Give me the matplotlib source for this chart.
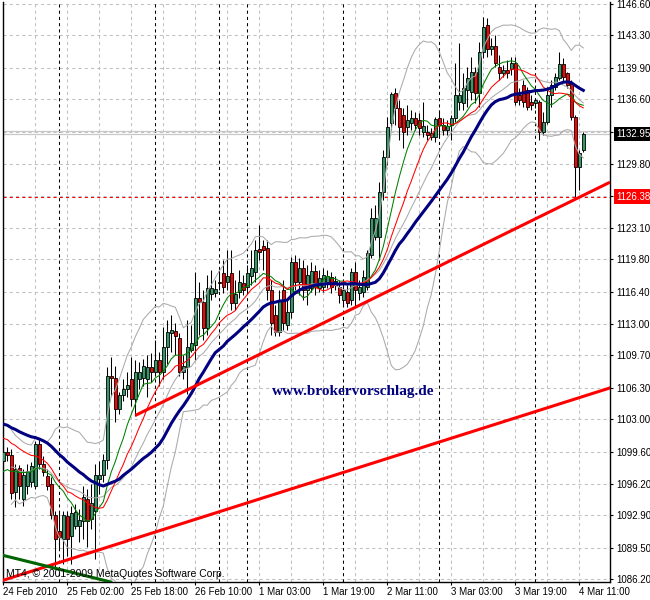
import numpy as np
import pandas as pd
import matplotlib
matplotlib.use("Agg")
import matplotlib.pyplot as plt
import matplotlib.transforms as mtransforms

plt.rcParams['font.family'] = ['Liberation Sans', 'DejaVu Sans']

# hourly bars, 24 Feb 2010 10:00 .. 4 Mar 12:00
opens = [1098.58, 1099.52, 1099.21, 1095.33, 1097.84, 1094.59, 1095.96, 1096.38, 1095.96, 1100.36,
         1098.26, 1097.00, 1096.17, 1092.91, 1091.23, 1090.40, 1092.81, 1090.71, 1091.76, 1091.76,
         1092.28, 1094.59, 1092.49, 1093.33, 1096.69, 1097.11, 1098.68, 1107.59, 1107.38, 1104.03,
         1105.50, 1106.13, 1107.18, 1105.08, 1107.18, 1107.38, 1107.18, 1108.53, 1107.91, 1109.27,
         1108.01, 1110.63, 1112.10, 1112.31, 1111.57, 1107.91, 1108.53, 1110.32, 1110.84, 1115.77,
         1115.35, 1112.62, 1116.19, 1116.29, 1117.45, 1118.39, 1117.45, 1118.39, 1115.25, 1116.40,
         1117.35, 1116.92, 1118.08, 1118.50, 1120.91, 1121.23, 1121.02, 1116.61, 1113.99, 1112.20,
         1116.61, 1112.94, 1114.30, 1119.55, 1117.45, 1118.92, 1116.61, 1116.82, 1118.60, 1116.82,
         1116.92, 1117.45, 1117.97, 1117.14, 1116.92, 1115.56, 1116.40, 1115.56, 1118.50, 1116.29,
         1116.40, 1116.92, 1120.28, 1122.17, 1122.17, 1126.88, 1130.55, 1134.12, 1137.27, 1135.69,
         1134.95, 1133.70, 1134.12, 1134.64, 1134.43, 1133.17, 1133.17, 1132.65, 1132.65, 1134.64,
         1133.91, 1133.38, 1133.91, 1134.64, 1136.32, 1136.22, 1137.58, 1137.37, 1139.47, 1137.27,
         1141.57, 1144.40, 1141.88, 1142.20, 1139.99, 1139.37, 1139.68, 1139.78, 1140.41, 1137.06,
         1138.11, 1137.58, 1136.32, 1136.22, 1136.32, 1133.17, 1134.22, 1137.06, 1137.90, 1138.84,
         1140.31, 1139.37, 1138.32, 1134.75, 1129.50, 1131.29]
closes = [1099.52, 1099.21, 1095.22, 1097.74, 1095.96, 1097.11, 1097.53, 1098.05, 1100.36, 1098.26,
          1097.42, 1095.96, 1092.91, 1090.40, 1090.61, 1092.91, 1090.40, 1093.12, 1093.23, 1092.39,
          1094.80, 1092.28, 1094.17, 1097.11, 1097.11, 1098.68, 1107.59, 1107.38, 1104.03, 1105.50,
          1106.13, 1106.55, 1105.08, 1107.91, 1107.91, 1108.64, 1108.53, 1107.91, 1109.27, 1108.01,
          1110.63, 1112.20, 1112.41, 1111.78, 1107.91, 1108.64, 1110.63, 1111.05, 1115.77, 1115.35,
          1112.62, 1116.82, 1116.82, 1116.72, 1117.35, 1116.92, 1118.08, 1115.25, 1116.19, 1117.45,
          1116.61, 1118.39, 1118.92, 1120.81, 1120.60, 1120.81, 1116.61, 1113.15, 1112.20, 1115.56,
          1113.15, 1114.30, 1119.55, 1117.45, 1118.92, 1116.61, 1118.18, 1118.60, 1116.92, 1117.87,
          1118.18, 1118.08, 1116.92, 1117.56, 1116.08, 1116.61, 1115.25, 1118.50, 1116.61, 1116.92,
          1117.97, 1120.49, 1124.16, 1124.16, 1126.88, 1130.55, 1133.70, 1137.16, 1135.69, 1133.70,
          1133.17, 1134.43, 1134.64, 1133.91, 1133.59, 1133.80, 1132.86, 1133.07, 1134.54, 1133.91,
          1133.38, 1133.80, 1134.64, 1137.06, 1137.06, 1137.79, 1138.84, 1139.47, 1137.27, 1141.57,
          1144.19, 1141.88, 1142.20, 1140.41, 1139.37, 1139.68, 1139.37, 1140.41, 1136.32, 1136.53,
          1136.32, 1135.80, 1136.01, 1136.53, 1133.17, 1134.22, 1137.06, 1138.11, 1138.95, 1140.31,
          1138.95, 1138.11, 1134.75, 1129.50, 1130.97, 1132.95]
highs = [1104.35, 1100.05, 1099.84, 1098.26, 1098.16, 1097.74, 1098.26, 1098.47, 1100.68, 1100.89,
         1099.10, 1097.74, 1096.90, 1093.33, 1093.23, 1093.33, 1093.33, 1093.86, 1094.07, 1093.54,
         1095.96, 1095.64, 1096.17, 1098.26, 1098.58, 1099.31, 1108.53, 1109.58, 1108.64, 1105.82,
         1107.18, 1108.01, 1109.58, 1109.27, 1109.06, 1109.37, 1109.79, 1110.00, 1111.37, 1110.11,
         1112.73, 1113.46, 1113.99, 1113.15, 1112.10, 1109.79, 1113.46, 1112.94, 1118.50, 1117.45,
         1116.61, 1118.18, 1118.71, 1117.66, 1118.71, 1119.76, 1120.81, 1120.81, 1117.66, 1118.71,
         1118.18, 1119.23, 1120.81, 1121.86, 1123.43, 1121.86, 1121.86, 1117.66, 1115.04, 1116.61,
         1117.66, 1115.56, 1120.07, 1120.28, 1119.97, 1119.76, 1119.23, 1119.55, 1119.23, 1118.71,
         1118.92, 1118.71, 1118.50, 1118.08, 1117.66, 1117.35, 1117.14, 1118.92, 1119.55, 1117.66,
         1118.71, 1120.81, 1125.21, 1125.53, 1127.93, 1131.29, 1134.75, 1137.37, 1137.79, 1136.53,
         1135.69, 1136.01, 1135.48, 1135.27, 1135.17, 1136.32, 1133.91, 1133.59, 1134.75, 1135.48,
         1134.64, 1134.43, 1134.96, 1140.41, 1142.51, 1139.37, 1139.99, 1141.04, 1139.99, 1142.62,
         1145.24, 1145.13, 1143.04, 1143.35, 1141.25, 1140.20, 1140.73, 1141.04, 1141.04, 1137.79,
         1138.63, 1137.90, 1137.06, 1136.74, 1136.53, 1135.27, 1137.90, 1138.63, 1139.37, 1141.57,
         1140.94, 1139.47, 1138.63, 1134.96, 1131.29, 1133.17]
lows = [1096.38, 1098.58, 1094.59, 1093.75, 1094.59, 1093.86, 1095.12, 1095.85, 1095.64, 1097.74,
        1097.00, 1095.54, 1092.49, 1087.25, 1089.35, 1087.77, 1088.61, 1087.77, 1091.44, 1090.08,
        1090.40, 1089.56, 1091.44, 1088.30, 1095.12, 1096.38, 1097.74, 1105.40, 1102.67, 1103.51,
        1104.87, 1105.29, 1104.35, 1103.30, 1106.13, 1106.44, 1105.29, 1106.86, 1107.59, 1106.44,
        1107.18, 1108.85, 1110.11, 1109.79, 1107.59, 1107.18, 1105.61, 1110.11, 1109.27, 1111.89,
        1111.37, 1111.89, 1115.56, 1115.87, 1116.61, 1116.29, 1116.61, 1114.51, 1114.51, 1115.77,
        1116.08, 1116.40, 1117.14, 1117.45, 1119.76, 1118.71, 1115.56, 1111.89, 1111.78, 1111.78,
        1112.41, 1112.41, 1113.67, 1116.61, 1116.08, 1115.56, 1115.04, 1116.40, 1116.08, 1116.40,
        1116.40, 1116.82, 1116.29, 1116.61, 1115.25, 1115.04, 1114.83, 1115.04, 1114.83, 1115.56,
        1115.87, 1116.61, 1119.97, 1121.86, 1119.76, 1126.05, 1129.71, 1133.38, 1133.91, 1132.37,
        1131.50, 1132.86, 1133.38, 1133.38, 1132.86, 1132.65, 1132.34, 1132.34, 1132.13, 1132.55,
        1132.86, 1132.86, 1132.34, 1134.22, 1135.48, 1135.48, 1135.80, 1136.53, 1136.22, 1135.80,
        1140.94, 1141.04, 1141.25, 1139.99, 1138.63, 1138.93, 1138.84, 1139.16, 1136.01, 1136.01,
        1135.80, 1135.48, 1135.48, 1135.69, 1132.34, 1132.86, 1134.01, 1135.80, 1137.58, 1138.63,
        1138.42, 1137.79, 1134.43, 1126.38, 1127.09, 1131.08]

# simple moving averages: (period, level before the first bar, read at the left edge)
ma_fast = (10, 1097.3)
ma_mid = (15, 1101.1)
ma_slow = (28, 1102.6)
bb_period, bb_dev = 20, 2.0

# trend lines (bar index, price)
trend_upper = ([33, 143], [1103.4, 1126.1])
trend_lower = ([0, 145], [1086.1, 1105.4])
trend_green = ([0, 26], [1088.7, 1086.0])

bid = 1132.95
ask = 1133.25
low_mark = 1126.38

tick_bars = [0, 16, 32, 48, 64, 80, 96, 112, 128, 144]
tick_names = ["24 Feb 2010", "25 Feb 02:00", "25 Feb 18:00", "26 Feb 10:00", "1 Mar 03:00",
              "1 Mar 19:00", "2 Mar 11:00", "3 Mar 03:00", "3 Mar 19:00", "4 Mar 11:00"]
separators = [14, 38, 54, 61, 85, 109, 133]
price_ticks = [1146.60, 1143.30, 1139.90, 1136.60, 1133.20, 1129.80, 1126.40, 1123.10, 1119.80,
               1116.40, 1113.00, 1109.70, 1106.30, 1103.00, 1099.60, 1096.20, 1092.90, 1089.50, 1086.20]
hidden_ticks = [1133.20, 1126.40]

o = np.array(opens)
c = np.array(closes)
h = np.array(highs)
l = np.array(lows)
x = np.arange(len(c))


def sma_line(period, start):
    # history before the first bar is taken as flat at the level seen on the left edge
    s = pd.Series([start] * (period - 1) + list(c)).rolling(period).mean()
    return s.iloc[period - 1:].to_numpy()


mid = pd.Series(c).rolling(bb_period, min_periods=3).mean()
std = pd.Series(c).rolling(bb_period, min_periods=3).std(ddof=0)
bb_up = mid + bb_dev * std
bb_dn = mid - bb_dev * std

fig = plt.figure(figsize=(6.5, 6.0), dpi=100)
ax = fig.add_axes([3 / 650, 18 / 600, 607 / 650, 580 / 600])
ax.set_xlim(-0.075, 151.675)
ax.set_ylim(1085.91, 1146.81)

# grid
grid_kw = dict(color='#c0c0c0', lw=0.75, ls=(0, (3, 3)), zorder=0)
for k in range(0, 152, 8):
    ax.axvline(k, **grid_kw)
for p in price_ticks:
    ax.axhline(p, **grid_kw)
for s in separators:
    ax.axvline(s, color='black', lw=0.75, ls=(0, (3, 3)), zorder=1)

# bid / ask and the marked low
ax.axhline(ask, color='#c8c8c8', lw=0.9, zorder=1)
ax.axhline(bid, color='#c8c8c8', lw=0.9, zorder=1)
ax.axhline(low_mark, color='#ff0000', lw=0.75, ls=(0, (3, 3)), zorder=1)

# candles
up = c >= o
ax.vlines(x, l, h, color='black', lw=0.75, zorder=3)
body_lo = np.minimum(o, c)
body_h = np.maximum(np.abs(c - o), 0.08)
ax.bar(x, body_h, bottom=body_lo, width=0.62,
       color=np.where(up, '#339966', '#ff0000'), edgecolor='black', linewidth=0.6, zorder=4)

# indicators
ax.plot(x, bb_up, color='#aaaaaa', lw=0.75, zorder=5)
ax.plot(x, mid, color='#aaaaaa', lw=0.75, zorder=5)
ax.plot(x, bb_dn, color='#aaaaaa', lw=0.75, zorder=5)
ax.plot(x, sma_line(*ma_fast), color='#008000', lw=0.75, zorder=6)
ax.plot(x, sma_line(*ma_mid), color='#ff0000', lw=0.75, zorder=6)
ax.plot(x, sma_line(*ma_slow), color='#000080', lw=2.2, zorder=6)

# trend lines
xr = ax.get_xlim()[1]
tb, tp = trend_upper
slope = (tp[1] - tp[0]) / (tb[1] - tb[0])
ax.plot([tb[0], xr], [tp[0], tp[0] + slope * (xr - tb[0])], color='#ff0000', lw=2.2,
        zorder=7, solid_capstyle='butt')
tb, tp = trend_lower
ax.axline((tb[0], tp[0]), (tb[1], tp[1]), color='#ff0000', lw=2.2, zorder=7)
tb, tp = trend_green
ax.axline((tb[0], tp[0]), (tb[1], tp[1]), color='#006400', lw=2.2, zorder=7)

# axes look
for side in ['left', 'right', 'bottom']:
    ax.spines[side].set_color('black')
    ax.spines[side].set_linewidth(1.0)
ax.spines['top'].set_visible(False)

ax.yaxis.tick_right()
ax.set_yticks(price_ticks)
ax.set_yticklabels(['' if p in hidden_ticks else f"{p:.2f}" for p in price_ticks])
ax.tick_params(axis='y', direction='out', length=2.2, width=0.8, pad=2.2, labelsize=7)
ax.set_xticks(tick_bars)
ax.set_xticklabels(tick_names, ha='left')
ax.tick_params(axis='x', direction='out', length=2.2, width=0.8, pad=1.5, labelsize=7)

# price boxes on the scale
tr = mtransforms.blended_transform_factory(ax.transAxes, ax.transData)
lx = 1.0 + 6 / 607
ax.text(lx, bid, f"{bid:.2f}", transform=tr, color='white', fontsize=7, va='center', ha='left',
        clip_on=False, zorder=9, bbox=dict(facecolor='black', edgecolor='none', pad=1.6))
ax.text(lx, low_mark, f"{low_mark:.2f}", transform=tr, color='white', fontsize=7, va='center',
        ha='left', clip_on=False, zorder=9, bbox=dict(facecolor='#ff0000', edgecolor='none', pad=1.6))

ax.text(0.443, 0.3276, "www.brokervorschlag.de", transform=ax.transAxes, color='#000080',
        fontsize=11, fontweight='bold', family=['Liberation Serif', 'DejaVu Serif'],
        va='center', ha='left', zorder=8)
ax.text(0.005, 0.0138, "MT4, \u00a9 2001-2009 MetaQuotes Software Corp.", transform=ax.transAxes,
        color='black', fontsize=7.5, va='center', ha='left', zorder=8)

fig.savefig("out.png", dpi=100, facecolor='white')
